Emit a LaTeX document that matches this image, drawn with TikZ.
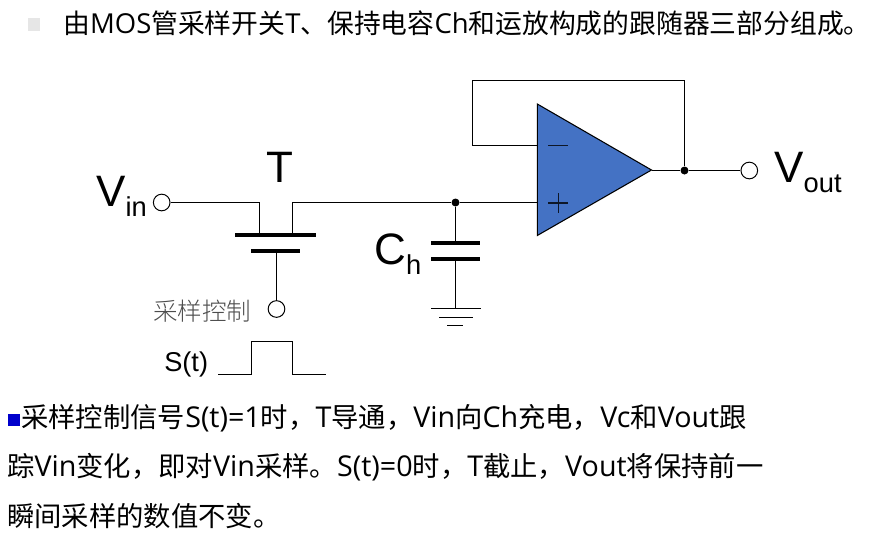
\documentclass[tikz,border=0pt]{standalone}
\usepackage{fontspec}
\usepackage{xcolor}
\setmainfont{Liberation Sans}
\newfontfamily\cjk{Noto Sans CJK SC}
\newfontfamily\cjkthin{Noto Sans CJK SC Light}
\newfontfamily\latbody{Open Sans}
\definecolor{ampblue}{HTML}{4472C4}
\definecolor{barblue}{HTML}{0000CC}
\definecolor{bargray}{HTML}{E6E6E6}
\newcommand{\sublabel}[2]{{\fontsize{33}{33}\selectfont #1\raisebox{-7.5pt}{\fontsize{20.5}{20.5}\selectfont #2}}}
\newcommand{\ltb}[1]{{\latbody\fontsize{21.5}{21.5}\selectfont #1}}
\newcommand{\lth}[1]{{\latbody\fontsize{20.6}{20.6}\selectfont #1}}
\tikzset{
  wire/.style={line width=0.8pt},
  plate/.style={line width=3pt},
  terminal/.style={circle,draw,fill=white,line width=0.75pt,minimum size=12.5pt,inner sep=0pt},
  junction/.style={circle,fill=black,minimum size=6pt,inner sep=0pt},
  bodytext/.style={anchor=base west,inner sep=0pt,font=\cjk\fontsize{20.5}{20.5}\selectfont},
  formula/.style={anchor=base west,inner sep=0pt},
}

\begin{document}
\begin{tikzpicture}[x=0.75pt,y=0.75pt,yscale=-1,xscale=1]
\useasboundingbox (0,0) rectangle (875,540);
% heading
\fill [bargray] (28,18) rectangle (40,31);
\node (heading) [bodytext,font=\cjk\fontsize{20.1}{20.1}\selectfont] at (63,33) {由\lth{MOS}管采样开关\lth{T}、保持电容\lth{Ch}和运放构成的跟随器三部分组成。};
% amplifier
\coordinate (ampTop) at (537.3,104);
\coordinate (ampTip) at (651.5,170);
\coordinate (ampBot) at (537.3,235.5);
\coordinate (ampMinus) at (537.3,145.5);
\coordinate (ampPlus) at (537.3,202.5);
\draw [wire,fill=ampblue] (ampTop) -- (ampTip) -- (ampBot) -- cycle;
\draw [line width=0.9pt,draw=black!80!ampblue] (548.3,145.5) -- (568.3,145.5);
\draw [line width=0.9pt,draw=black!80!ampblue] (548.3,203) -- (568.3,203) (558.3,193) -- (558.3,213);
% terminals and junctions
\node (vin) [terminal] at (161.7,202.5) {};
\node (vout) [terminal] at (749.3,170.5) {};
\node (gate) [terminal] at (276.5,309) {};
\node (nodeC) [junction] at (455.5,202.5) {};
\node (nodeOut) [junction] at (684.5,170.5) {};
% switch T
\coordinate (drainL) at (259.5,202.5);
\coordinate (drainR) at (292.5,202.5);
\coordinate (gateTop) at (276.5,251);
\draw [plate] (235,234.7) -- (316,234.7);
\draw [plate] (251,251) -- (300,251);
\draw [wire] (vin) -- (drainL) -- (259.5,234.7);
\draw [wire] (292.5,234.7) -- (drainR) -- (nodeC);
\draw [wire] (gateTop) -- (gate);
% hold capacitor and ground
\coordinate (capTop) at (455.5,242.7);
\coordinate (capBot) at (455.5,258.7);
\coordinate (gndTop) at (455.5,308.5);
\draw [plate] (431,242.7) -- (480,242.7);
\draw [plate] (431,258.7) -- (480,258.7);
\draw [wire] (nodeC) -- (capTop);
\draw [wire] (capBot) -- (gndTop);
\draw [wire] (431,308.5) -- (481,308.5);
\draw [wire] (439.3,317.5) -- (472.7,317.5);
\draw [wire] (447.3,325.5) -- (463.3,325.5);
% amplifier wiring
\coordinate (fbLow) at (472.5,145.5);
\coordinate (fbHigh) at (472.5,80.5);
\coordinate (fbRight) at (684.5,80.5);
\draw [wire] (nodeC) -- (ampPlus);
\draw [wire] (ampMinus) -- (fbLow) -- (fbHigh) -- (fbRight) -- (nodeOut);
\draw [wire] (651.5,170.5) -- (nodeOut) -- (vout);
% pulse
\draw [wire] (218.3,374.5) -- (251.5,374.5) -- (251.5,341.5) -- (292.5,341.5) -- (292.5,374.5) -- (325.7,374.5);
% labels
\node (labelVin) [formula] at (96,206.7) {\sublabel{V}{in}};
\node (labelVout) [formula] at (774,182.7) {\sublabel{V}{out}};
\node (labelCh) [formula] at (374,264) {\sublabel{C}{h}};
\node (labelT) [formula,anchor=base] at (280,182.7) {\fontsize{33}{33}\selectfont T};
\node (labelSt) [formula] at (164,371) {\fontsize{20.4}{20.4}\selectfont S(t)};
\node (labelCtrl) [anchor=west,inner sep=0pt,text=black!70] at (153,311) {\cjkthin\fontsize{18.4}{18.4}\selectfont 采样控制};
% body text
\fill [barblue] (8,414) rectangle (20,426);
\node (lineA) [bodytext] at (21,427.7) {采样控制信号\ltb{S(t)=1}时，\ltb{T}导通，\ltb{Vin}向\ltb{Ch}充电，\ltb{Vc}和\ltb{Vout}跟};
\node (lineB) [bodytext] at (7,476.7) {踪\ltb{Vin}变化，即对\ltb{Vin}采样。\ltb{S(t)=0}时，\ltb{T}截止，\ltb{Vout}将保持前一};
\node (lineC) [bodytext] at (7,526) {瞬间采样的数值不变。};
\end{tikzpicture}
\end{document}
